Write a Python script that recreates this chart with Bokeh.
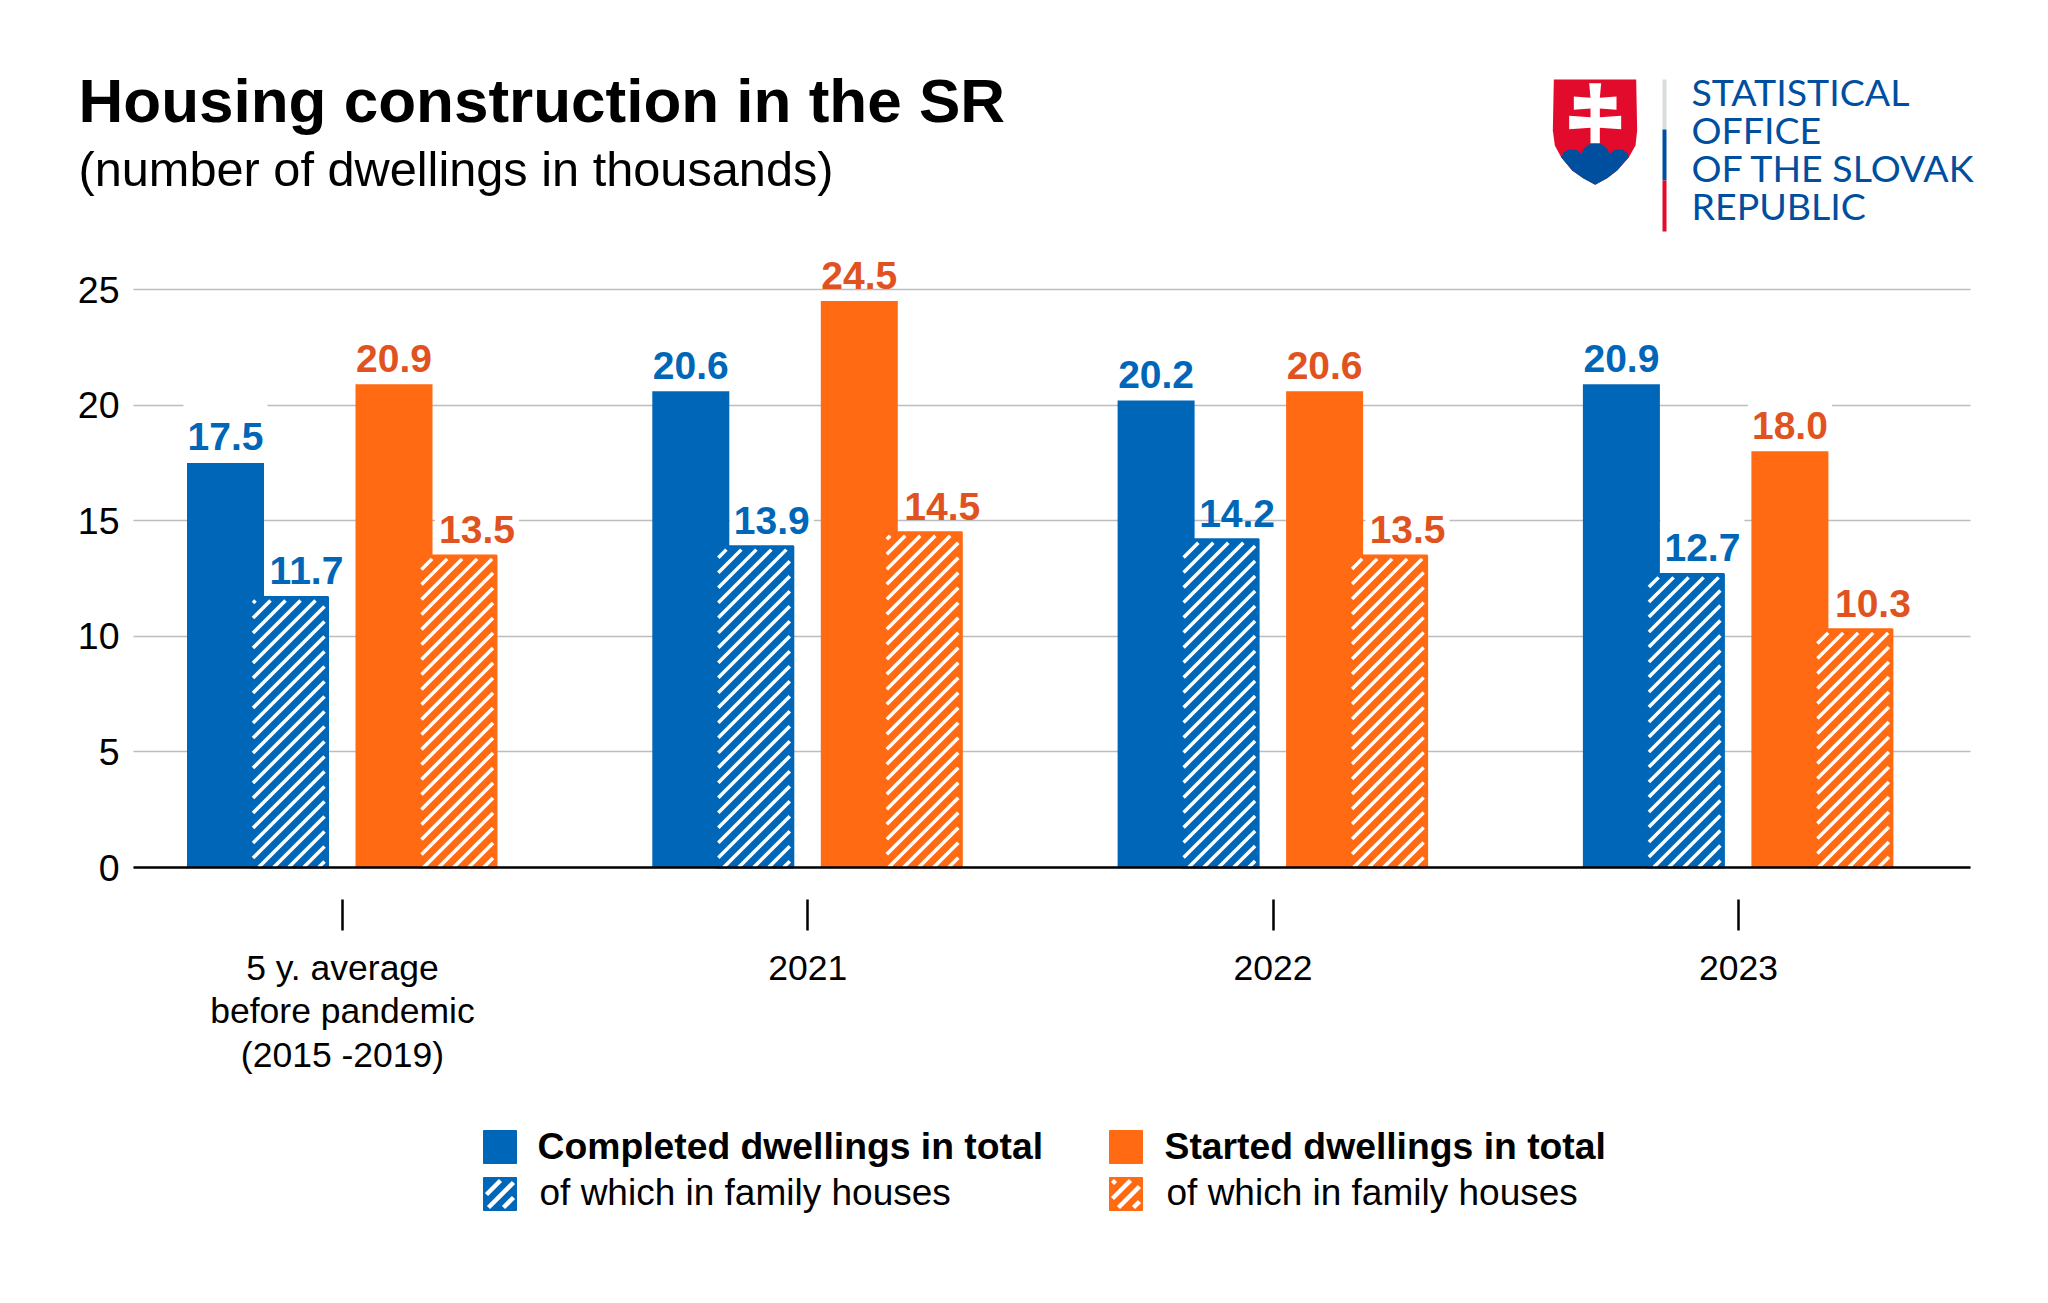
from bokeh.plotting import figure
from bokeh.embed import file_html
from bokeh.resources import INLINE
from bokeh.core.properties import value
from bokeh.models import (ColumnDataSource, Range1d, LinearAxis, FixedTicker, Label, Grid,
                          BoxAnnotation, PolyAnnotation)

categories = ["5 y. average\nbefore pandemic\n(2015 -2019)", "2021", "2022", "2023"]
completed_total = [17.5, 20.6, 20.2, 20.9]
completed_family = [11.7, 13.9, 14.2, 12.7]
started_total = [20.9, 24.5, 20.6, 18.0]
started_family = [13.5, 14.5, 13.5, 10.3]
y_ticks = [0, 5, 10, 15, 20, 25]

title_text = "Housing construction in the SR"
subtitle_text = "(number of dwellings in thousands)"
legend_bold = ["Completed dwellings in total", "Started dwellings in total"]
legend_normal = "of which in family houses"
logo_lines = ["STATISTICAL", "OFFICE", "OF THE SLOVAK", "REPUBLIC"]

BLUE = "#0067B8"
ORANGE = "#FF6A13"
BLUE_TXT = "#0067B8"
ORANGE_TXT = "#E05321"
LOGO_BLUE = "#004F9F"
LOGO_RED = "#E30B2B"

W, H = 2040, 1295
AX_L, AX_R, AX_B = 133, 1970, 867
STEP = 465.3
C0 = 342
PX_PER_UNIT = 23.12
HATCH_GAP = 15


def dx(px):
    return (px - C0) / STEP


def dy(py):
    return (AX_B - py) / PX_PER_UNIT


p = figure(width=W, height=H, output_backend="svg", toolbar_location=None,
           x_axis_type=None, y_axis_type=None,
           x_range=Range1d(dx(0), dx(W)),
           y_range=Range1d(dy(H), dy(0)),
           min_border=0, outline_line_color=None, background_fill_color="white",
           border_fill_color="white")

yax = LinearAxis(ticker=FixedTicker(ticks=y_ticks), axis_line_color=None,
                 fixed_location=dx(AX_L),
                 major_tick_line_color=None, minor_tick_line_color=None,
                 major_label_text_font="Liberation Sans",
                 major_label_text_font_size="37.5px", major_label_text_color="#000000",
                 major_label_standoff=8)
p.add_layout(yax, "left")
xax = LinearAxis(ticker=FixedTicker(ticks=list(range(len(categories)))),
                 fixed_location=0, bounds=(dx(AX_L), dx(AX_R)),
                 major_label_overrides={i: c for i, c in enumerate(categories)},
                 axis_line_color="#000000", axis_line_width=2.5,
                 major_tick_line_color="#000000", major_tick_line_width=2.5,
                 major_tick_in=-32, major_tick_out=63, minor_tick_line_color=None,
                 major_label_text_font="Liberation Sans",
                 major_label_text_font_size="35.5px", major_label_text_color="#000000",
                 major_label_text_line_height=1.09,
                 major_label_standoff=17)
p.add_layout(xax, "below")

grid_kw = dict(dimension=1, ticker=FixedTicker(ticks=y_ticks), grid_line_color="#BDBDBD",
               grid_line_width=1.5)
if "cross_bounds" in Grid.properties():
    p.add_layout(Grid(cross_bounds=(dx(AX_L), dx(AX_R)), **grid_kw))
else:
    p.segment(x0=[dx(AX_L)] * len(y_ticks), x1=[dx(AX_R)] * len(y_ticks), y0=y_ticks, y1=y_ticks,
              line_color="#BDBDBD", line_width=1.5)


def hatch_lines(rects, width):
    """White 45-degree strokes inside pixel rectangles (left, right, top, bottom)."""
    x0, y0, x1, y1 = [], [], [], []
    for left, right, top, bottom in rects:
        c = int((left + top) // HATCH_GAP) * HATCH_GAP
        while c < right + bottom:
            a = max(left, c - bottom)
            b = min(right, c - top)
            if b > a:
                x0.append(dx(a))
                y0.append(dy(c - a))
                x1.append(dx(b))
                y1.append(dy(c - b))
            c += HATCH_GAP
    p.segment(x0=x0, y0=y0, x1=x1, y1=y1, line_color="white", line_width=width, line_cap="butt")


BAR_PX = 77
series = [
    (completed_total, -117, BLUE, False, BLUE_TXT, 0),
    (completed_family, -53, BLUE, True, BLUE_TXT, 17),
    (started_total, 51.5, ORANGE, False, ORANGE_TXT, 0),
    (started_family, 115.5, ORANGE, True, ORANGE_TXT, 19),
]
for vals, off, col, hatched, txt, tx in series:
    p.rect(x=[i + (off + tx) / STEP for i in range(len(vals))],
           y=[v + 41 / PX_PER_UNIT for v in vals],
           width=84 / STEP, height=38 / PX_PER_UNIT, fill_color="white", line_color=None)
for vals, off, col, hatched, txt, tx in series:
    xs = [i + off / STEP for i in range(len(vals))]
    src = ColumnDataSource(dict(x=xs, top=vals, lab=[f"{v:.1f}" for v in vals],
                                lx=[x + tx / STEP for x in xs]))
    p.vbar(x="x", top="top", bottom=0, width=BAR_PX / STEP, source=src, fill_color=col,
           line_color=col if hatched else None, line_width=2)
    if hatched:
        rects = [(C0 + x * STEP - BAR_PX / 2 + 2, C0 + x * STEP + BAR_PX / 2 - 3.5,
                  AX_B - v * PX_PER_UNIT + 3.5, AX_B) for x, v in zip(xs, vals)]
        hatch_lines(rects, 3.5)
    p.text(x="lx", y="top", text="lab", source=src, text_align="center",
           text_baseline="alphabetic", text_color=txt, y_offset=-26,
           text_font=value("Liberation Sans"), text_font_style="bold",
           text_font_size="39px")


def label(x, y, text, size, color="#000000", style="normal", font="Liberation Sans"):
    p.add_layout(Label(x=dx(x), y=dy(y), text=text,
                       text_font=font, text_font_size=size, text_color=color,
                       text_font_style=style, text_baseline="alphabetic", text_align="left"))


def box(left, right, top, bottom, color, **kw):
    p.add_layout(BoxAnnotation(left=dx(left), right=dx(right), top=dy(top), bottom=dy(bottom),
                               fill_color=color, fill_alpha=1, **kw))


def poly(pts, color):
    xs = [dx(q[0] / 3 + 1500) for q in pts]
    ys = [dy(q[1] / 3 + 50) for q in pts]
    p.add_layout(PolyAnnotation(xs=xs, ys=ys, fill_color=color, fill_alpha=1, line_color=None))


shield = [(160, 87), (407, 87), (410, 240), (405, 285), (385, 320), (350, 360), (320, 383),
          (284, 403), (248, 383), (215, 360), (182, 320), (163, 285), (157, 240)]
hills = [(182, 320), (190, 305), (205, 297), (225, 297), (243, 310), (250, 295), (265, 282),
         (285, 277), (305, 282), (320, 295), (327, 310), (345, 297), (365, 297), (378, 305),
         (385, 320), (350, 360), (320, 383), (284, 403), (248, 383), (215, 360)]
cross = [(266, 98), (302, 98), (298, 142), (348, 138), (348, 178), (298, 174), (298, 200),
         (362, 196), (362, 236), (298, 232), (298, 278), (270, 278), (270, 232), (206, 236),
         (206, 196), (270, 200), (270, 174), (220, 178), (220, 138), (270, 142)]
poly(shield, LOGO_RED)
poly(hills, LOGO_BLUE)
poly(cross, "#FFFFFF")

for top, bottom, col in [(79, 129, "#D9DCDC"), (129, 180, LOGO_BLUE), (180, 231, LOGO_RED)]:
    box(1662, 1666, top, bottom, col, line_color=None)

for i, bx in enumerate([483, 1109]):
    col = BLUE if i == 0 else ORANGE
    for top in (1130, 1177):
        p.quad(left=[dx(bx)], right=[dx(bx + 33)], top=[dy(top)], bottom=[dy(top + 33)],
               fill_color=col, line_color=col)
    hatch_lines([(bx + 3, bx + 30, 1180, 1207)], 4.5)

label(78, 100, title_text, "62px", style="bold")
label(78, 168, subtitle_text, "48.7px")
for i, tx in enumerate([537, 1164]):
    label(tx, 1145, legend_bold[i], "37.3px", style="bold")
    label(tx + 2, 1192, legend_normal, "37px")
for line, base in zip(logo_lines, [91, 129, 167, 205]):
    label(1691, base, line, "37.5px", color=LOGO_BLUE, font="Lato")

open("out.html", "w").write(file_html(p, INLINE))
